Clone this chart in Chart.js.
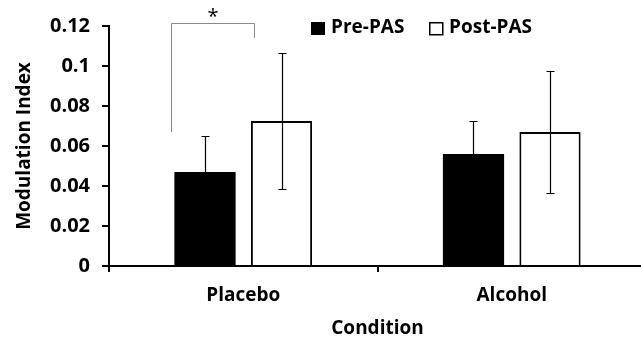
<!DOCTYPE html>
<html>
<head>
<meta charset="utf-8">
<script src="https://cdn.jsdelivr.net/npm/chart.js@4/dist/chart.umd.min.js"></script>
<style>
html,body{margin:0;padding:0;background:#fff;overflow:hidden;width:641px;height:340px;}
#wrap{position:relative;width:650px;height:340px;}
</style>
</head>
<body>
<div id="wrap"><canvas id="c" width="650" height="340"></canvas></div>
<script>
const categories = ['Placebo', 'Alcohol'];
const seriesNames = ['Pre-PAS', 'Post-PAS'];
const prePAS = [0.047, 0.056];
const postPAS = [0.0725, 0.067];
const preErr = [0.018, 0.0166];
const postErr = [0.034, 0.0305];
const yTickValues = [0, 0.02, 0.04, 0.06, 0.08, 0.1, 0.12];
const yTickLabels = ['0', '0.02', '0.04', '0.06', '0.08', '0.1', '0.12'];
const sigBracket = [0.067, 0.1215, 0.114]; // left end, top, right end (Placebo)
const sigLabel = '*';
const yTitle = 'Modulation Index';
const xTitle = 'Condition';

const FONT = '"Open Sans"';

const overlay = {
  id: 'overlay',
  afterDatasetsDraw(chart) {
    const ctx = chart.ctx;
    const y = chart.scales.y;
    const errs = [preErr, postErr];
    ctx.save();
    // error bars
    ctx.strokeStyle = '#000';
    ctx.lineWidth = 1.2;
    [0, 1].forEach(di => {
      const meta = chart.getDatasetMeta(di);
      meta.data.forEach((bar, i) => {
        const v = chart.data.datasets[di].data[i];
        const e = errs[di][i];
        const yt = Math.round(y.getPixelForValue(v + e)) + 0.5;
        const yb = Math.round(y.getPixelForValue(v - e)) + 0.5;
        const x = Math.round(bar.x) + 0.5;
        ctx.beginPath();
        ctx.moveTo(x, yt); ctx.lineTo(x, yb);
        ctx.moveTo(x - 4, yt); ctx.lineTo(x + 4, yt);
        ctx.moveTo(x - 4, yb); ctx.lineTo(x + 4, yb);
        ctx.stroke();
      });
    });
    // significance bracket
    const b0 = chart.getDatasetMeta(0).data[0];
    const b1 = chart.getDatasetMeta(1).data[0];
    const xl = Math.round(b0.x - b0.width / 2 - 3) + 0.5;
    const xr = Math.round(b1.x - b1.width / 2 + 3) + 0.5;
    const yTop = Math.round(y.getPixelForValue(sigBracket[1])) + 0.5;
    ctx.strokeStyle = '#8a8a8a';
    ctx.lineWidth = 1;
    ctx.beginPath();
    ctx.moveTo(xl, y.getPixelForValue(sigBracket[0]));
    ctx.lineTo(xl, yTop);
    ctx.lineTo(xr, yTop);
    ctx.lineTo(xr, y.getPixelForValue(sigBracket[2]));
    ctx.stroke();
    ctx.fillStyle = '#000';
    ctx.font = '20px ' + FONT;
    ctx.textAlign = 'center';
    ctx.textBaseline = 'middle';
    ctx.fillText(sigLabel, (xl + xr) / 2, yTop - 6);
    // legend
    ctx.font = 'bold 19px ' + FONT;
    ctx.textAlign = 'left';
    const ly = 28;
    ctx.fillStyle = '#000';
    ctx.fillRect(311, 22, 14, 13);
    ctx.fillText(seriesNames[0], 331, ly);
    ctx.strokeStyle = '#000';
    ctx.lineWidth = 1.5;
    ctx.fillStyle = '#fff';
    ctx.fillRect(429.75, 22.75, 13, 12);
    ctx.strokeRect(429.75, 22.75, 13, 12);
    ctx.fillStyle = '#000';
    ctx.fillText(seriesNames[1], 449, ly);
    ctx.restore();
  }
};

new Chart(document.getElementById('c'), {
  type: 'bar',
  data: {
    labels: categories,
    datasets: [
      { label: seriesNames[0], data: prePAS, backgroundColor: '#000', borderColor: '#000', borderWidth: 0 },
      { label: seriesNames[1], data: postPAS, backgroundColor: '#fff', borderColor: '#000', borderWidth: 2 }
    ]
  },
  options: {
    responsive: false,
    animation: false,
    events: [],
    categoryPercentage: 0.57,
    barPercentage: 0.8,
    layout: { padding: { top: 26, right: 4, left: 0, bottom: 0 } },
    plugins: { legend: { display: false }, tooltip: { enabled: false } },
    scales: {
      x: {
        offset: true,
        grid: { display: true, offset: true, drawOnChartArea: false, drawTicks: true, tickLength: 6, color: '#000', lineWidth: 2 },
        border: { display: true, color: '#000', width: 2 },
        ticks: { color: '#000', font: { family: FONT, size: 19, weight: 'bold' }, padding: 12 },
        title: { display: true, text: xTitle, color: '#000', font: { family: FONT, size: 19, weight: 'bold' }, padding: { top: 0, bottom: 0 } },
        afterFit(s) { s.height = 74; }
      },
      y: {
        min: 0, max: 0.12,
        afterBuildTicks(s) { s.ticks = yTickValues.map(v => ({ value: v })); },
        grid: { display: true, drawOnChartArea: false, drawTicks: true, tickLength: 7, color: '#000', lineWidth: 2 },
        border: { display: true, color: '#000', width: 2 },
        ticks: {
          color: '#000', font: { family: FONT, size: 20, weight: 'bold' }, padding: 12,
          callback(v, i) { return yTickLabels[i]; }
        },
        title: { display: true, text: yTitle, color: '#000', font: { family: FONT, size: 19, weight: 'bold' }, padding: { top: 13, bottom: 0 } },
        afterFit(s) { s.width = 109; }
      }
    }
  },
  plugins: [overlay]
});
</script>
</body>
</html>
